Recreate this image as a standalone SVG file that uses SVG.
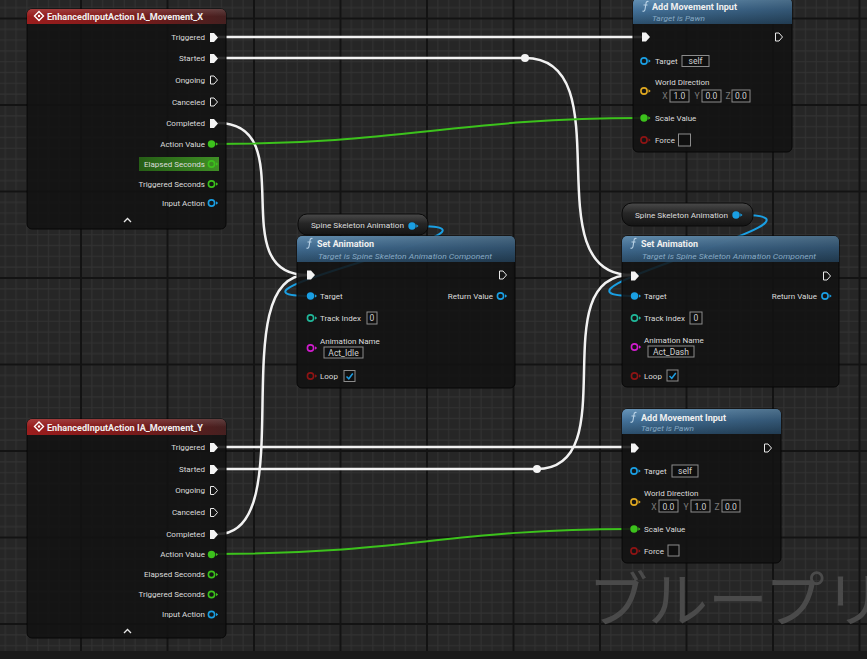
<svg xmlns="http://www.w3.org/2000/svg" xmlns:xlink="http://www.w3.org/1999/xlink" width="867" height="659" viewBox="0 0 867 659">
<style>
.lbl{font-family:Roboto,"Liberation Sans",sans-serif;font-size:8px;fill:#dcdcdc}
.end{text-anchor:end}
.ttl{font-family:Roboto,"Liberation Sans",sans-serif;font-size:9px;font-weight:bold;fill:#f0f0f0}
.sub{font-family:Roboto,"Liberation Sans",sans-serif;font-size:7.5px;font-style:italic;fill:#86a9c4}
.val{font-family:Roboto,"Liberation Sans",sans-serif;font-size:8.5px;fill:#d0d0d0;text-anchor:middle}
.axis{font-family:Roboto,"Liberation Sans",sans-serif;font-size:8.5px;fill:#7a7a7a;text-anchor:middle}
.box{fill:#0f0f0f;stroke:#8c8c8c;stroke-width:1}
.body{fill:#121212;fill-opacity:0.88;stroke:#070707;stroke-width:1}
.exec{fill:none;stroke:#f2f2f2;stroke-width:2.5}
.wblue{fill:none;stroke:#1a9fe3;stroke-width:2}
.wgreen{fill:none;stroke:#3cc21c;stroke-width:2}
.chk{fill:none;stroke:#1e9ce0;stroke-width:1.5}
</style>
<defs>
<pattern id="grid" patternUnits="userSpaceOnUse" x="-5.5" y="18.5" width="86.5" height="86.5">
<rect width="86.5" height="86.5" fill="#262626"/>
<path d="M10.81,0V86.5M21.63,0V86.5M32.44,0V86.5M43.25,0V86.5M54.06,0V86.5M64.88,0V86.5M75.69,0V86.5M0,10.81H86.5M0,21.63H86.5M0,32.44H86.5M0,43.25H86.5M0,54.06H86.5M0,64.88H86.5M0,75.69H86.5" stroke="#323232" stroke-width="1"/>
<path d="M0,0V86.5M86.5,0V86.5M0,0H86.5M0,86.5H86.5" stroke="#131313" stroke-width="2"/>
</pattern>
<linearGradient id="redH" x1="0" y1="0" x2="1" y2="0">
<stop offset="0" stop-color="#9a1d1d"/><stop offset="0.5" stop-color="#7c1a1a"/><stop offset="1" stop-color="#452020"/>
</linearGradient>
<linearGradient id="blueH" x1="0" y1="0" x2="0" y2="1">
<stop offset="0" stop-color="#6896ba"/><stop offset="0.45" stop-color="#44729a"/><stop offset="1" stop-color="#2c4f6c"/>
</linearGradient>
<linearGradient id="shadeH" x1="0" y1="0" x2="1" y2="0">
<stop offset="0" stop-color="#000" stop-opacity="0"/><stop offset="1" stop-color="#000" stop-opacity="0.25"/>
</linearGradient>
<linearGradient id="gloss" x1="0" y1="0" x2="0" y2="1">
<stop offset="0" stop-color="#fff" stop-opacity="0.14"/><stop offset="0.5" stop-color="#fff" stop-opacity="0"/>
</linearGradient>
<linearGradient id="pill" x1="0" y1="0" x2="0" y2="1">
<stop offset="0" stop-color="#4a4a4a"/><stop offset="0.45" stop-color="#262626"/><stop offset="1" stop-color="#141414"/>
</linearGradient>
<linearGradient id="hiGreen" x1="0" y1="0" x2="1" y2="0">
<stop offset="0" stop-color="#265e16"/><stop offset="1" stop-color="#3f8f25"/>
</linearGradient>
<path id="exF" d="M-4,-4.5H0L4,0L0,4.5H-4Z" fill="#f4f4f4"/>
<path id="exO" d="M-3.5,-4H0L3.5,0L0,4H-3.5Z" fill="none" stroke="#e8e8e8" stroke-width="1"/>
<g id="pF"><circle r="3.7" fill="currentColor"/><path d="M4.3,-1.8L6.5,0L4.3,1.8Z" fill="currentColor"/></g>
<g id="pO"><circle r="3.1" fill="none" stroke="currentColor" stroke-width="1.6"/><path d="M4.5,-1.8L6.7,0L4.5,1.8Z" fill="currentColor"/></g>
<path id="fic" d="M3.5,-4.5C2,-5 1.2,-4 1,-2.5L0,3.5C-0.3,5 -1.2,5.5 -2.5,5M-1.5,-1H2.5" fill="none" stroke="#b9d2e6" stroke-width="1.1"/>
</defs>

<rect width="867" height="659" fill="url(#grid)"/>
<rect x="0" y="651" width="867" height="8" fill="#1a1a1a"/>
<text x="588" y="622" font-family="'Noto Sans CJK JP',sans-serif" font-size="60" fill="#4a4a4a">ブループリ</text>

<g id="connectors">
<path class="exec" d="M218,37H642"/>
<path class="exec" d="M218,58H525"/>
<path class="exec" d="M525,58C625,58 531,275 631,275"/>
<path class="exec" d="M218,123C303,123 222,275 307,275"/>
<path class="exec" d="M218,534C303,534 222,275 307,275"/>
<path class="exec" d="M218,447H631"/>
<path class="exec" d="M218,469H537"/>
<path class="exec" d="M537,469C627,469 541,275 631,275"/>
<circle cx="525" cy="58" r="4" fill="#f4f4f4"/>
<circle cx="537" cy="469" r="4" fill="#f4f4f4"/>
<path class="wgreen" d="M216,144C400,144 460,118 641,118"/>
<path class="wgreen" d="M216,554C400,554 450,529 631,529"/>
<path class="wblue" d="M417,226C537,226 191,296 311,296"/>
<path class="wblue" d="M741,215C861,215 515,296 635,296"/>
</g>

<g id="node-ia-x">
<rect class="body" x="27" y="9" width="199" height="220" rx="5"/>
<path d="M27,24V14A5,5 0 0 1 32,9H221A5,5 0 0 1 226,14V24Z" fill="url(#redH)"/>
<path d="M27,24V14A5,5 0 0 1 32,9H221A5,5 0 0 1 226,14V24Z" fill="url(#gloss)"/>
<path d="M39,11.5L43.5,16L39,20.5L34.5,16Z" fill="none" stroke="#fff" stroke-width="1.4"/>
<circle cx="39" cy="16" r="1.2" fill="#fff"/>
<text class="ttl" x="47" y="19.5" textLength="156" lengthAdjust="spacingAndGlyphs">EnhancedInputAction IA_Movement_X</text>
<rect x="139" y="157" width="80" height="14" fill="url(#hiGreen)"/>
<text class="lbl end" x="205" y="40">Triggered</text><use href="#exF" x="214" y="37.5"/>
<text class="lbl end" x="205" y="61">Started</text><use href="#exF" x="214" y="58.5"/>
<text class="lbl end" x="205" y="83">Ongoing</text><use href="#exO" x="214" y="80"/>
<text class="lbl end" x="205" y="105">Canceled</text><use href="#exO" x="214" y="102"/>
<text class="lbl end" x="205" y="126">Completed</text><use href="#exF" x="214" y="123.5"/>
<text class="lbl end" x="205" y="147">Action Value</text><use href="#pF" x="211.5" y="144" color="#3cc21c"/>
<text class="lbl end" x="205" y="167">Elapsed Seconds</text><use href="#pO" x="211.5" y="164" color="#3cc21c"/>
<text class="lbl end" x="205" y="187">Triggered Seconds</text><use href="#pO" x="211.5" y="184" color="#3cc21c"/>
<text class="lbl end" x="205" y="206">Input Action</text><use href="#pO" x="211.5" y="203" color="#1a9fe3"/>
<path d="M124,222L127.5,218.5L131,222" fill="none" stroke="#e8e8e8" stroke-width="1.3"/>
</g>

<g id="node-ia-y">
<rect class="body" x="27" y="419" width="199" height="219" rx="5"/>
<path d="M27,435V424A5,5 0 0 1 32,419H221A5,5 0 0 1 226,424V435Z" fill="url(#redH)"/>
<path d="M27,435V424A5,5 0 0 1 32,419H221A5,5 0 0 1 226,424V435Z" fill="url(#gloss)"/>
<path d="M39,422L43.5,426.5L39,431L34.5,426.5Z" fill="none" stroke="#fff" stroke-width="1.4"/>
<circle cx="39" cy="426.5" r="1.2" fill="#fff"/>
<text class="ttl" x="47" y="430.5" textLength="156" lengthAdjust="spacingAndGlyphs">EnhancedInputAction IA_Movement_Y</text>
<text class="lbl end" x="205" y="450">Triggered</text><use href="#exF" x="214" y="447.5"/>
<text class="lbl end" x="205" y="472">Started</text><use href="#exF" x="214" y="469.5"/>
<text class="lbl end" x="205" y="493">Ongoing</text><use href="#exO" x="214" y="490.5"/>
<text class="lbl end" x="205" y="515">Canceled</text><use href="#exO" x="214" y="512.5"/>
<text class="lbl end" x="205" y="537">Completed</text><use href="#exF" x="214" y="534.5"/>
<text class="lbl end" x="205" y="557">Action Value</text><use href="#pF" x="211.5" y="554.5" color="#3cc21c"/>
<text class="lbl end" x="205" y="577">Elapsed Seconds</text><use href="#pO" x="211.5" y="574.5" color="#3cc21c"/>
<text class="lbl end" x="205" y="597">Triggered Seconds</text><use href="#pO" x="211.5" y="594.5" color="#3cc21c"/>
<text class="lbl end" x="205" y="617">Input Action</text><use href="#pO" x="211.5" y="614.5" color="#1a9fe3"/>
<path d="M124,633L127.5,629.5L131,633" fill="none" stroke="#e8e8e8" stroke-width="1.3"/>
</g>

<g id="node-add-movement-x">
<rect class="body" x="633" y="-2" width="159" height="154" rx="5"/>
<path d="M633,24V3A5,5 0 0 1 638,-2H787A5,5 0 0 1 792,3V24Z" fill="url(#blueH)"/>
<path d="M633,24V3A5,5 0 0 1 638,-2H787A5,5 0 0 1 792,3V24Z" fill="url(#shadeH)"/>
<use href="#fic" x="645" y="6"/>
<text class="ttl" x="652" y="10" textLength="85" lengthAdjust="spacingAndGlyphs">Add Movement Input</text>
<text class="sub" x="652" y="20.5" textLength="53" lengthAdjust="spacingAndGlyphs">Target is Pawn</text>
<use href="#exF" x="646" y="37"/>
<use href="#exO" x="779" y="37"/>
<use href="#pO" x="644" y="61" color="#1a9fe3"/>
<text class="lbl" x="655" y="64">Target</text>
<rect class="box" x="682" y="55.5" width="27" height="11"/>
<text class="val" x="695.5" y="64">self</text>
<text class="lbl" x="655" y="85">World Direction</text>
<use href="#pO" x="644" y="91" color="#e0a820"/>
<text class="axis" x="665" y="99">X</text>
<rect class="box" x="670" y="90" width="19" height="12"/>
<text class="val" x="679.5" y="99">1.0</text>
<text class="axis" x="697" y="99">Y</text>
<rect class="box" x="702" y="90" width="19" height="12"/>
<text class="val" x="711.5" y="99">0.0</text>
<text class="axis" x="728" y="99">Z</text>
<rect class="box" x="732" y="90" width="18" height="12"/>
<text class="val" x="741" y="99">0.0</text>
<use href="#pF" x="644" y="118" color="#3cc21c"/>
<text class="lbl" x="655" y="121">Scale Value</text>
<use href="#pO" x="644" y="140" color="#8e1414"/>
<text class="lbl" x="655" y="143">Force</text>
<rect class="box" x="678.5" y="134" width="12" height="12" stroke="#5a5a5a"/>
</g>

<g id="node-add-movement-y">
<rect class="body" x="622" y="409" width="159" height="154" rx="5"/>
<path d="M622,434V414A5,5 0 0 1 627,409H776A5,5 0 0 1 781,414V434Z" fill="url(#blueH)"/>
<path d="M622,434V414A5,5 0 0 1 627,409H776A5,5 0 0 1 781,414V434Z" fill="url(#shadeH)"/>
<use href="#fic" x="633" y="417"/>
<text class="ttl" x="641" y="420.5" textLength="85" lengthAdjust="spacingAndGlyphs">Add Movement Input</text>
<text class="sub" x="641" y="431" textLength="53" lengthAdjust="spacingAndGlyphs">Target is Pawn</text>
<use href="#exF" x="635" y="448"/>
<use href="#exO" x="768" y="448"/>
<use href="#pO" x="634" y="471" color="#1a9fe3"/>
<text class="lbl" x="644" y="474">Target</text>
<rect class="box" x="672" y="465" width="26" height="12"/>
<text class="val" x="685" y="474">self</text>
<text class="lbl" x="644" y="496">World Direction</text>
<use href="#pO" x="634" y="502" color="#e0a820"/>
<text class="axis" x="654" y="509.5">X</text>
<rect class="box" x="659" y="500" width="19" height="12"/>
<text class="val" x="668.5" y="509.5">0.0</text>
<text class="axis" x="686" y="509.5">Y</text>
<rect class="box" x="691" y="500" width="19" height="12"/>
<text class="val" x="700.5" y="509.5">1.0</text>
<text class="axis" x="717" y="509.5">Z</text>
<rect class="box" x="722" y="500" width="18" height="12"/>
<text class="val" x="731" y="509.5">0.0</text>
<use href="#pF" x="634" y="529" color="#3cc21c"/>
<text class="lbl" x="644" y="532">Scale Value</text>
<use href="#pO" x="634" y="551" color="#8e1414"/>
<text class="lbl" x="644" y="554">Force</text>
<rect class="box" x="668" y="545" width="11" height="11" stroke="#5a5a5a"/>
</g>

<g id="node-spine-var-1">
<rect x="298" y="214" width="130" height="21" rx="9" fill="url(#pill)" stroke="#0a0a0a" stroke-width="1"/>
<text class="lbl" x="311" y="228" textLength="93" lengthAdjust="spacingAndGlyphs">Spine Skeleton Animation</text>
<use href="#pF" x="412" y="226" color="#1a9fe3"/>
</g>

<g id="node-set-animation-idle">
<rect class="body" x="297" y="236" width="218" height="152" rx="5"/>
<path d="M297,262V241A5,5 0 0 1 302,236H510A5,5 0 0 1 515,241V262Z" fill="url(#blueH)" fill-opacity="0.92"/>
<path d="M297,262V241A5,5 0 0 1 302,236H510A5,5 0 0 1 515,241V262Z" fill="url(#shadeH)"/>
<use href="#fic" x="309" y="243"/>
<text class="ttl" x="317" y="247" textLength="57" lengthAdjust="spacingAndGlyphs">Set Animation</text>
<text class="sub" x="318" y="258.5" textLength="174" lengthAdjust="spacingAndGlyphs">Target is Spine Skeleton Animation Component</text>
<use href="#exF" x="311" y="275"/>
<use href="#exO" x="503" y="275"/>
<use href="#pF" x="310.5" y="296" color="#1a9fe3"/>
<text class="lbl" x="320" y="299">Target</text>
<text class="lbl end" x="493" y="299">Return Value</text>
<use href="#pO" x="500.5" y="296" color="#1a9fe3"/>
<use href="#pO" x="310.5" y="318" color="#20b89a"/>
<text class="lbl" x="320" y="321">Track Index</text>
<rect class="box" x="367" y="312" width="10" height="12"/>
<text class="val" x="372" y="321">0</text>
<text class="lbl" x="320" y="344">Animation Name</text>
<use href="#pO" x="310.5" y="348" color="#d21ccf"/>
<rect class="box" x="324" y="347" width="39" height="11"/>
<text class="val" x="343.5" y="355.5">Act_Idle</text>
<use href="#pO" x="310.5" y="376" color="#8e1414"/>
<text class="lbl" x="320" y="379">Loop</text>
<rect class="box" x="344" y="370.5" width="11" height="11" stroke="#5a5a5a"/>
<path class="chk" d="M346.5,376.5L348.8,378.8L352.8,373.5"/>
</g>

<g id="node-spine-var-2">
<rect x="622" y="203" width="131" height="23" rx="10" fill="url(#pill)" stroke="#0a0a0a" stroke-width="1"/>
<text class="lbl" x="635" y="218" textLength="93" lengthAdjust="spacingAndGlyphs">Spine Skeleton Animation</text>
<use href="#pF" x="736" y="215" color="#1a9fe3"/>
</g>

<g id="node-set-animation-dash">
<rect class="body" x="622" y="236" width="217" height="151" rx="5"/>
<path d="M622,262V241A5,5 0 0 1 627,236H834A5,5 0 0 1 839,241V262Z" fill="url(#blueH)" fill-opacity="0.92"/>
<path d="M622,262V241A5,5 0 0 1 627,236H834A5,5 0 0 1 839,241V262Z" fill="url(#shadeH)"/>
<use href="#fic" x="633" y="243"/>
<text class="ttl" x="641" y="247" textLength="57" lengthAdjust="spacingAndGlyphs">Set Animation</text>
<text class="sub" x="642" y="258.5" textLength="174" lengthAdjust="spacingAndGlyphs">Target is Spine Skeleton Animation Component</text>
<use href="#exF" x="635" y="276"/>
<use href="#exO" x="827" y="276"/>
<use href="#pF" x="634.5" y="296" color="#1a9fe3"/>
<text class="lbl" x="644" y="299">Target</text>
<text class="lbl end" x="817" y="299">Return Value</text>
<use href="#pO" x="825" y="296" color="#1a9fe3"/>
<use href="#pO" x="634.5" y="318" color="#20b89a"/>
<text class="lbl" x="644" y="321">Track Index</text>
<rect class="box" x="690" y="312" width="12" height="12"/>
<text class="val" x="696" y="321">0</text>
<text class="lbl" x="644" y="343">Animation Name</text>
<use href="#pO" x="634.5" y="347" color="#d21ccf"/>
<rect class="box" x="648" y="346" width="46" height="11"/>
<text class="val" x="671" y="354.5">Act_Dash</text>
<use href="#pO" x="634.5" y="376" color="#8e1414"/>
<text class="lbl" x="644" y="379">Loop</text>
<rect class="box" x="667" y="370" width="11" height="11" stroke="#5a5a5a"/>
<path class="chk" d="M669.5,376L671.8,378.3L675.8,373"/>
</g>
</svg>
